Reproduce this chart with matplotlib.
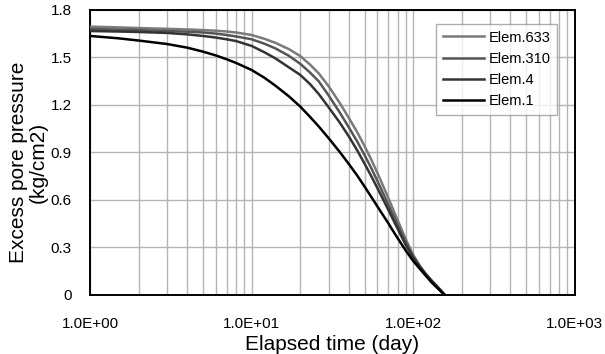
import matplotlib
matplotlib.use("Agg")
import matplotlib.pyplot as plt
from matplotlib.ticker import LogLocator, FixedLocator, NullFormatter

plt.rcParams['font.family'] = ['Liberation Sans', 'DejaVu Sans']

# elapsed time (day), shared by all series
days = [1, 1.5, 2, 3, 4, 5, 6, 7, 8, 10, 12, 14, 17, 20, 23, 26, 30, 35, 40, 45, 50,
        55, 60, 65, 70, 75, 80, 90, 100, 110, 120, 130, 140, 150, 157]

# excess pore pressure (kg/cm2)
elem_633 = [1.695, 1.690, 1.686, 1.681, 1.677, 1.673, 1.669, 1.664, 1.658, 1.642, 1.618, 1.593,
            1.553, 1.509, 1.455, 1.40, 1.318, 1.215, 1.118, 1.029, 0.941, 0.856, 0.772, 0.691,
            0.615, 0.542, 0.474, 0.352, 0.253, 0.185, 0.13, 0.085, 0.05, 0.02, 0.0]
elem_310 = [1.68, 1.676, 1.673, 1.667, 1.663, 1.658, 1.651, 1.642, 1.633, 1.615, 1.587, 1.558,
            1.511, 1.46, 1.405, 1.35, 1.26, 1.155, 1.058, 0.97, 0.884, 0.802, 0.721, 0.644,
            0.573, 0.506, 0.443, 0.333, 0.246, 0.18, 0.127, 0.082, 0.05, 0.02, 0.0]
elem_4 = [1.667, 1.664, 1.661, 1.655, 1.646, 1.636, 1.626, 1.615, 1.604, 1.573, 1.533, 1.495,
          1.438, 1.39, 1.332, 1.27, 1.185, 1.091, 1.001, 0.914, 0.83, 0.751, 0.676, 0.606,
          0.54, 0.478, 0.42, 0.315, 0.235, 0.178, 0.132, 0.092, 0.058, 0.024, 0.0]
elem_1 = [1.636, 1.621, 1.607, 1.585, 1.562, 1.537, 1.513, 1.489, 1.466, 1.421, 1.372, 1.323,
          1.255, 1.19, 1.125, 1.065, 0.99, 0.905, 0.827, 0.755, 0.685, 0.62, 0.56, 0.505,
          0.455, 0.405, 0.36, 0.28, 0.215, 0.165, 0.12, 0.08, 0.048, 0.018, 0.0]

labels = ["Elem.633", "Elem.310", "Elem.4", "Elem.1"]
colors = ["#7a7a7a", "#555555", "#333333", "#000000"]

x_ticks = [1, 10, 100, 1000]
x_ticklabels = ["1.0E+00", "1.0E+01", "1.0E+02", "1.0E+03"]
y_ticks = [0, 0.3, 0.6, 0.9, 1.2, 1.5, 1.8]
y_ticklabels = ["0", "0.3", "0.6", "0.9", "1.2", "1.5", "1.8"]

fig = plt.figure(figsize=(6.05, 3.54), dpi=100)
ax = fig.add_axes([0.1488, 0.1667, 0.8012, 0.8051])

for vals, lab, col in zip([elem_633, elem_310, elem_4, elem_1], labels, colors):
    ax.plot(days, vals, color=col, lw=1.8, label=lab, zorder=3, solid_joinstyle="round")

ax.set_xscale("log")
ax.set_xlim(1, 1000)
ax.set_ylim(0, 1.8)
ax.xaxis.set_major_locator(FixedLocator(x_ticks))
ax.set_xticklabels(x_ticklabels)
ax.xaxis.set_minor_locator(LogLocator(base=10, subs=range(2, 10)))
ax.xaxis.set_minor_formatter(NullFormatter())
ax.set_yticks(y_ticks)
ax.set_yticklabels(y_ticklabels)

ax.grid(True, which="both", axis="x", color="#b4b4b4", lw=1.0)
ax.grid(True, which="major", axis="y", color="#b4b4b4", lw=1.0)
ax.tick_params(which="both", length=0)
ax.tick_params(axis="x", pad=16, labelsize=11)
ax.tick_params(axis="y", pad=13, labelsize=11)

for s in ax.spines.values():
    s.set_linewidth(1.4)
    s.set_color("black")

ax.set_xlabel("Elapsed time (day)", fontsize=15, labelpad=3)
ax.set_ylabel("Excess pore pressure\n(kg/cm2)", fontsize=15, linespacing=1.0)
ax.yaxis.set_label_coords(-0.088, 0.465)

leg = ax.legend(loc="upper right", bbox_to_anchor=(0.963, 0.951), borderaxespad=0,
                fontsize=10.5, frameon=True, fancybox=False, edgecolor="#999999",
                handlelength=2.8, handletextpad=0.3, labelspacing=0.5, borderpad=0.45)
leg.get_frame().set_linewidth(1.0)

fig.savefig("out.png", dpi=100)
